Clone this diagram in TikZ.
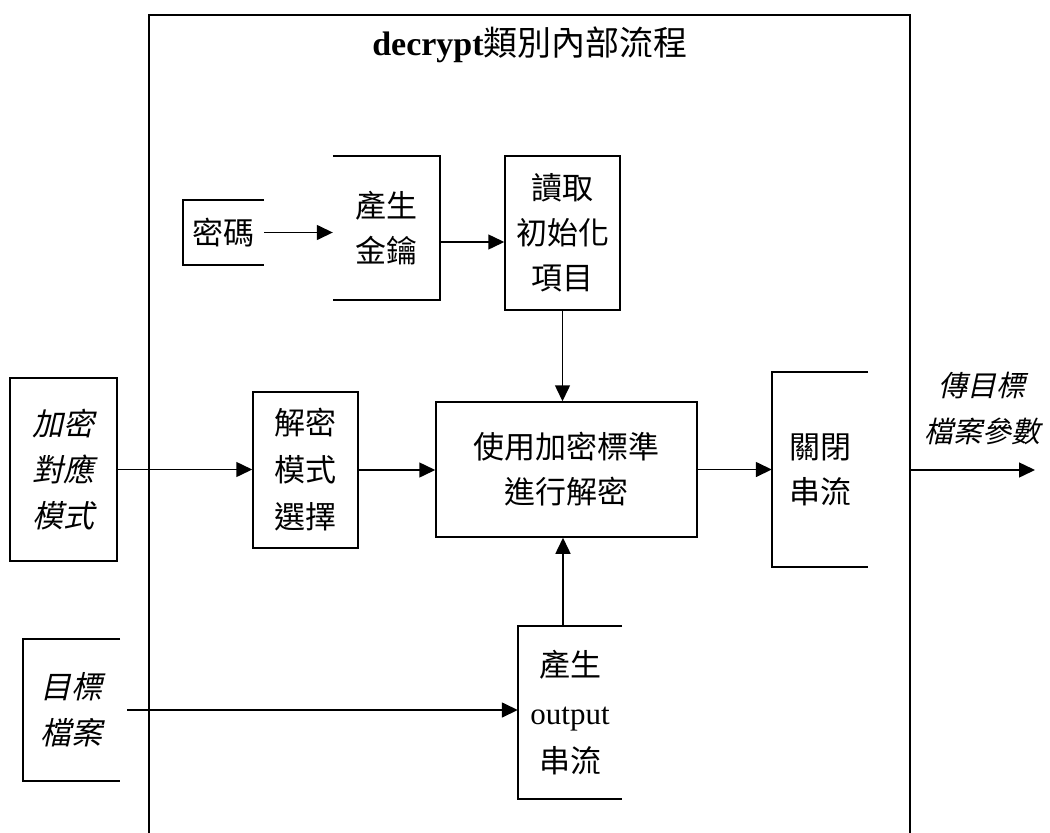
\documentclass[tikz,border=0pt]{standalone}
\usepackage{fontspec}
\setmainfont{Liberation Serif}
\newfontfamily\cjk{Noto Sans CJK TC}
\newfontfamily\cjkit{Noto Sans CJK TC}[FakeSlant=0.22]
\usepackage{tikz}
\usetikzlibrary{shapes,arrows,arrows.meta,positioning}

\begin{document}
\begin{tikzpicture}[
    x=1pt, y=-1pt,
    box/.style={rectangle, draw, line width=1.5pt, inner sep=0pt, align=center, font=\fontsize{31}{45}\selectfont\cjk},
    openbox/.style={rectangle, inner sep=0pt, align=center, font=\fontsize{31}{45}\selectfont\cjk},
    edge/.style={line width=1.5pt},
    arrow/.style={-{Triangle[length=16pt, width=15pt]}, line width=1.5pt}
]
    \useasboundingbox (0,0) rectangle (1050,833);

    % Outer frame: decrypt class
    \node[openbox, minimum width=761, minimum height=818] (frame) at (529.5,424) {};
    \draw[edge] (frame.south west) -- (frame.north west) -- (frame.north east) -- (frame.south east);
    \node[font=\fontsize{34}{40}\selectfont] (title) at (530,45) {\textbf{decrypt}{\cjk 類別內部流程}};

    % Top row: password -> key -> init
    \node[openbox, minimum width=81, minimum height=65] (pwd) at (223.5,232.5) {密碼};
    \draw[edge] (pwd.north east) -- (pwd.north west) -- (pwd.south west) -- (pwd.south east);
    \node[openbox, minimum width=107, minimum height=144] (key) at (386.5,228) {產生\\金鑰};
    \draw[edge] (key.north west) -- (key.north east) -- (key.south east) -- (key.south west);
    \node[box, minimum width=115, minimum height=154] (init) at (562.5,233) {讀取\\初始化\\項目};

    % Middle row
    \node[box, minimum width=107, minimum height=183, font=\fontsize{31}{46}\selectfont\cjkit] (cmode) at (63.5,469.5) {加密\\對應\\模式};
    \node[box, minimum width=105, minimum height=156, font=\fontsize{31}{47}\selectfont\cjk] (mode) at (305.5,470) {解密\\模式\\選擇};
    \node[box, minimum width=261, minimum height=135] (aes) at (566.5,469.5) {使用加密標準\\進行解密};
    \node[openbox, minimum width=96, minimum height=195] (close) at (820,469.5) {關閉\\串流};
    \draw[edge] (close.north east) -- (close.north west) -- (close.south west) -- (close.south east);
    \coordinate (out) at (1035,470);
    \node[openbox, font=\fontsize{29}{46}\selectfont\cjkit] (ret) at (982,408) {傳目標\\檔案參數};

    % Bottom row
    \node[openbox, minimum width=97, minimum height=142, font=\fontsize{31}{46}\selectfont\cjkit] (tgt) at (71.5,710) {目標\\檔案};
    \draw[edge] (tgt.north east) -- (tgt.north west) -- (tgt.south west) -- (tgt.south east);
    \node[openbox, minimum width=104, minimum height=173, font=\fontsize{31}{48}\selectfont] (outs) at (570,712.5) {{\cjk 產生}\\output\\{\cjk 串流}};
    \draw[edge] (outs.north east) -- (outs.north west) -- (outs.south west) -- (outs.south east);

    % Connectors
    \draw[arrow] (pwd.east) -- (pwd.east -| key.west);
    \draw[arrow] ([yshift=-14pt]key.east) -- ([yshift=-14pt]key.east -| init.west);
    \draw[arrow] (init.south) -- (init.south |- aes.north);
    \draw[arrow] (cmode.east) -- (cmode.east -| mode.west);
    \draw[arrow] (mode.east) -- (mode.east -| aes.west);
    \draw[arrow] (aes.east) -- (aes.east -| close.west);
    \draw[arrow] ([xshift=-7pt]outs.north) -- ([xshift=-7pt]outs.north |- aes.south);
    \draw[arrow, shorten <=7pt] (tgt.east) -- (tgt.east -| outs.west);
    \draw[arrow] (frame.east |- out) -- (out);

\end{tikzpicture}
\end{document}
